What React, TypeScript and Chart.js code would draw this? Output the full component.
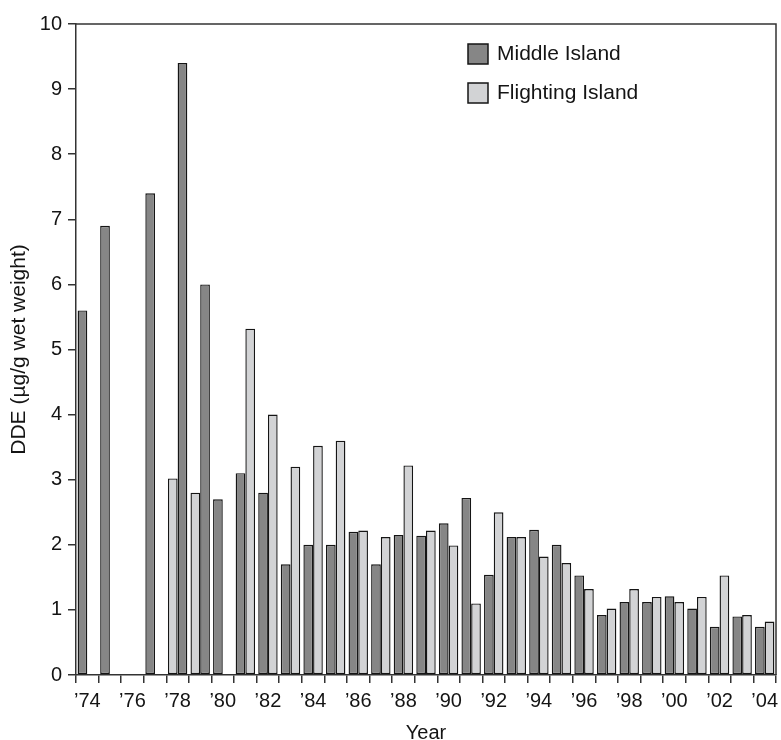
import React, { useEffect, useRef } from 'react';
import { Chart, registerables } from 'chart.js';

Chart.register(...registerables);

// ---- data ----
const years = [
  1974, 1975, 1976, 1977, 1978, 1979, 1980, 1981, 1982, 1983,
  1984, 1985, 1986, 1987, 1988, 1989, 1990, 1991, 1992, 1993,
  1994, 1995, 1996, 1997, 1998, 1999, 2000, 2001, 2002, 2003, 2004,
];

const middleIsland = [
  5.6, 6.9, null, 7.4, 9.4, 6.0, 2.7, 3.1, 2.8, 1.7,
  2.0, 2.0, 2.2, 1.7, 2.15, 2.14, 2.33, 2.72, 1.54, 2.12,
  2.23, 2.0, 1.53, 0.92, 1.12, 1.12, 1.21, 1.02, 0.74, 0.9, 0.74,
];

const flightingIsland = [
  null, null, null, null, 3.02, 2.8, null, 5.32, 4.0, 3.2,
  3.52, 3.6, 2.22, 2.12, 3.22, 2.22, 1.99, 1.1, 2.5, 2.12,
  1.82, 1.72, 1.32, 1.02, 1.32, 1.2, 1.12, 1.2, 1.53, 0.92, 0.82,
];

// years in which the Flighting Island bar is drawn on the left of the pair
const flightingFirstYears = [1978, 1979];

const seriesNames = ['Middle Island', 'Flighting Island'];

const xTickLabels = years.map((y) =>
  y % 2 === 0 ? '\u2019' + String(y).slice(2) : ''
);

const yMin = 0;
const yMax = 10;
const yStep = 1;

// ---- styles ----
const FONT = "'Liberation Sans', Arial, Helvetica, sans-serif";
const MIDDLE_COLOR = '#868686';
const FLIGHT_COLOR = '#d2d3d5';
const EDGE = '#151515';
const AXIS = '#333333';
const TEXT = '#141414';
const seriesColors = [MIDDLE_COLOR, FLIGHT_COLOR];

const swapped = (y: number) => flightingFirstYears.includes(y);

const framePlugin = {
  id: 'frame',
  afterDraw(chart: any) {
    const { ctx, chartArea } = chart;
    const { left, top, right, bottom } = chartArea;
    ctx.save();
    ctx.strokeStyle = AXIS;
    ctx.lineWidth = 1.5;
    ctx.beginPath();
    ctx.moveTo(left, top);
    ctx.lineTo(right, top);
    ctx.lineTo(right, bottom);
    ctx.stroke();
    ctx.restore();
  },
};

const legendPlugin = {
  id: 'boxLegend',
  afterDraw(chart: any) {
    const { ctx, chartArea } = chart;
    const x = chartArea.left + 392;
    const y0 = chartArea.top + 20;
    const gap = 39;
    const box = 20;
    ctx.save();
    seriesNames.forEach((name, i) => {
      const y = y0 + i * gap;
      ctx.fillStyle = seriesColors[i];
      ctx.fillRect(x, y, box, box);
      ctx.strokeStyle = EDGE;
      ctx.lineWidth = 1.5;
      ctx.strokeRect(x, y, box, box);
      ctx.fillStyle = TEXT;
      ctx.font = `21px ${FONT}`;
      ctx.textBaseline = 'middle';
      ctx.textAlign = 'left';
      ctx.fillText(name, x + box + 9, y + box / 2);
    });
    ctx.restore();
  },
};

export default function App() {
  const ref = useRef<HTMLCanvasElement>(null);

  useEffect(() => {
    if (!ref.current) return;
    Chart.defaults.font.family = FONT;

    const firstData = years.map((y, i) => (swapped(y) ? flightingIsland[i] : middleIsland[i]));
    const firstColors = years.map((y) => (swapped(y) ? FLIGHT_COLOR : MIDDLE_COLOR));
    const secondData = years.map((y, i) => (swapped(y) ? middleIsland[i] : flightingIsland[i]));
    const secondColors = years.map((y) => (swapped(y) ? MIDDLE_COLOR : FLIGHT_COLOR));

    const barStyle = {
      borderColor: EDGE,
      borderWidth: 1.4,
      borderSkipped: false as const,
      categoryPercentage: 0.86,
      barPercentage: 1.0,
    };

    const chart = new Chart(ref.current, {
      type: 'bar',
      data: {
        labels: years.map(String),
        datasets: [
          {
            label: seriesNames[0],
            data: firstData as any,
            backgroundColor: firstColors,
            ...barStyle,
          },
          {
            label: seriesNames[1],
            data: secondData as any,
            backgroundColor: secondColors,
            ...barStyle,
          },
        ],
      },
      options: {
        responsive: false,
        animation: false,
        devicePixelRatio: 1,
        layout: { padding: { top: 24, right: 5, left: 0, bottom: 0 } },
        plugins: {
          legend: { display: false },
          tooltip: { enabled: false },
        },
        scales: {
          x: {
            offset: true,
            grid: {
              offset: true,
              drawOnChartArea: false,
              drawTicks: true,
              tickLength: 8,
              color: AXIS,
              lineWidth: 1.5,
            },
            border: { display: true, color: AXIS, width: 1.5 },
            ticks: {
              autoSkip: false,
              maxRotation: 0,
              minRotation: 0,
              padding: 6,
              color: TEXT,
              font: { family: FONT, size: 20 },
              callback: (_v: any, i: number) => xTickLabels[i],
            },
            title: {
              display: true,
              text: 'Year',
              color: TEXT,
              font: { family: FONT, size: 20, lineHeight: 1 },
              padding: { top: 0, bottom: -3 },
            },
            afterFit: (s: any) => {
              s.height = 65;
              s.paddingLeft = 0;
              s.paddingRight = 0;
            },
          },
          y: {
            min: yMin,
            max: yMax,
            grid: {
              drawOnChartArea: false,
              drawTicks: true,
              tickLength: 8,
              color: AXIS,
              lineWidth: 1.5,
            },
            border: { display: true, color: AXIS, width: 1.5 },
            ticks: {
              stepSize: yStep,
              padding: 6,
              color: TEXT,
              font: { family: FONT, size: 20 },
            },
            title: {
              display: true,
              text: 'DDE (\u00b5g/g wet weight)',
              color: TEXT,
              font: { family: FONT, size: 21, lineHeight: 1.2 },
              padding: { top: 7, bottom: 0 },
            },
            afterFit: (s: any) => {
              s.width = 76;
              s.paddingTop = 0;
              s.paddingBottom = 0;
            },
          },
        },
      },
      plugins: [framePlugin, legendPlugin],
    });

    return () => chart.destroy();
  }, []);

  return (
    <div style={{ position: 'absolute', left: 0, top: 0, width: 781, height: 740, background: '#fff' }}>
      <canvas ref={ref} width={781} height={740} style={{ display: 'block' }} />
    </div>
  );
}
